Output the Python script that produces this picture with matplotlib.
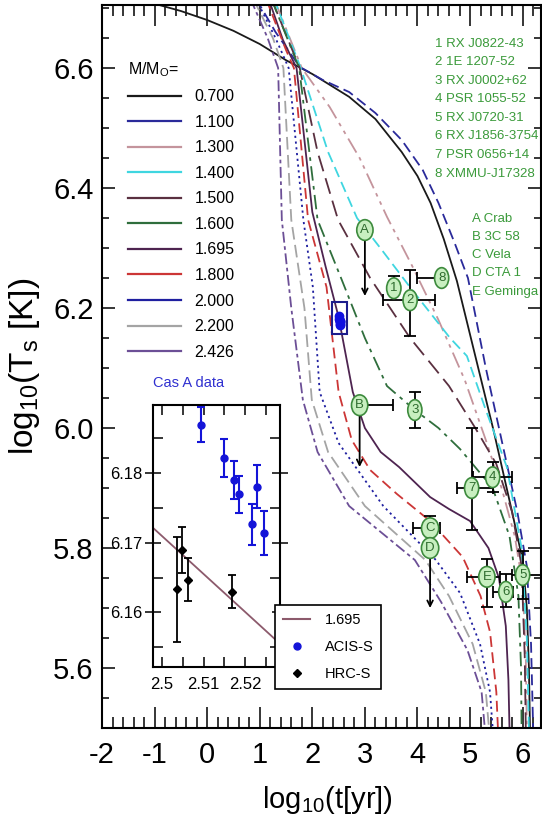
import matplotlib
matplotlib.use('Agg')
import matplotlib.pyplot as plt
from matplotlib.lines import Line2D
from matplotlib.patches import Rectangle
from matplotlib.ticker import MultipleLocator, FixedLocator, FixedFormatter

plt.rcParams['font.family'] = ['Liberation Sans Narrow', 'Noto Sans Condensed', 'Liberation Sans', 'DejaVu Sans']
plt.rcParams['font.stretch'] = 'condensed'
plt.rcParams['axes.unicode_minus'] = False
plt.rcParams['mathtext.default'] = 'regular'

# ---- cooling curves: log10(t[yr]) , log10(Ts[K])
masses = ['0.700', '1.100', '1.300', '1.400', '1.500', '1.600', '1.695', '1.800', '2.000', '2.200', '2.426']
colors = ['#1a1a1a', '#2a2a9a', '#c4949c', '#3fd6e0', '#5a3040', '#2f6e3c', '#4e2450', '#cc3636', '#1f1fa0', '#a4a4a4', '#6c4f96']
styles = ['-', (0, (6, 3)), (0, (9, 3, 2, 3, 2, 3)), (0, (6, 3)), (0, (9, 4)), (0, (8, 3, 2, 3)), '-',
          (0, (6, 3)), (0, (1.2, 2)), (0, (7, 3)), (0, (6, 2, 2, 2))]

t_0700 = [-1.2, -0.5, 0.0, 0.5, 1.0, 1.5, 2.0, 2.7, 3.2, 3.7, 4.0, 4.25, 4.5, 4.75, 5.1, 5.45, 5.8, 6.0, 6.08, 6.12, 6.14]
T_0700 = [6.712, 6.695, 6.68, 6.662, 6.64, 6.613, 6.59, 6.552, 6.515, 6.46, 6.42, 6.375, 6.315, 6.245, 6.12, 5.995, 5.86, 5.78, 5.7, 5.6, 5.5]
t_1100 = [0.9, 1.3, 1.76, 2.2, 2.7, 3.2, 3.7, 4.1, 4.4, 4.7, 4.96, 5.3, 5.6, 5.9, 6.08, 6.16, 6.2]
T_1100 = [6.72, 6.66, 6.602, 6.58, 6.56, 6.525, 6.48, 6.43, 6.375, 6.31, 6.25, 6.1, 5.98, 5.86, 5.77, 5.64, 5.5]
t_1300 = [1.25, 1.8, 2.33, 2.9, 3.42, 3.9, 4.4, 4.9, 5.3, 5.6, 5.85, 6.0, 6.06, 6.08]
T_1300 = [6.72, 6.6, 6.535, 6.45, 6.352, 6.27, 6.18, 6.08, 5.98, 5.9, 5.82, 5.74, 5.62, 5.5]
t_1400 = [1.25, 1.78, 2.3, 2.85, 3.32, 3.9, 4.62, 4.94, 5.3, 5.7, 5.98, 6.08, 6.12]
T_1400 = [6.72, 6.6, 6.46, 6.35, 6.297, 6.23, 6.15, 6.12, 6.03, 5.935, 5.8, 5.65, 5.5]
t_1500 = [1.2, 1.76, 2.1, 2.49, 3.1, 3.86, 4.6, 5.1, 5.5, 5.8, 5.98, 6.04, 6.06]
T_1500 = [6.72, 6.6, 6.46, 6.347, 6.25, 6.15, 6.07, 6.0, 5.94, 5.86, 5.77, 5.62, 5.5]
t_1600 = [1.2, 1.75, 2.1, 2.56, 3.0, 3.42, 3.95, 4.4, 4.81, 5.43, 5.75, 5.92, 5.97, 5.98]
T_1600 = [6.72, 6.6, 6.347, 6.247, 6.15, 6.07, 6.03, 6.0, 5.965, 5.9, 5.82, 5.72, 5.6, 5.5]
t_1695 = [1.15, 1.44, 1.7, 2.0, 2.25, 2.5, 2.77, 3.0, 3.3, 3.65, 4.24, 4.6, 5.0, 5.35, 5.55, 5.68, 5.73, 5.75]
T_1695 = [6.72, 6.647, 6.6, 6.36, 6.27, 6.185, 6.06, 6.0, 5.96, 5.935, 5.885, 5.865, 5.845, 5.8, 5.75, 5.67, 5.58, 5.5]
t_1800 = [1.1, 1.5, 1.65, 1.92, 2.27, 2.5, 2.75, 3.1, 3.61, 4.24, 4.86, 5.2, 5.38, 5.5, 5.53]
T_1800 = [6.72, 6.63, 6.6, 6.347, 6.235, 6.06, 5.98, 5.93, 5.89, 5.845, 5.785, 5.72, 5.66, 5.56, 5.5]
t_2000 = [0.9, 1.3, 1.55, 1.83, 2.01, 2.14, 2.5, 3.35, 4.35, 4.81, 5.19, 5.38, 5.43]
T_2000 = [6.72, 6.65, 6.6, 6.347, 6.235, 6.06, 5.975, 5.87, 5.78, 5.725, 5.64, 5.56, 5.5]
t_2200 = [0.85, 1.25, 1.45, 1.6, 1.85, 1.99, 2.3, 3.0, 4.15, 4.6, 5.05, 5.3, 5.36]
T_2200 = [6.72, 6.65, 6.6, 6.347, 6.2, 6.047, 5.96, 5.87, 5.78, 5.72, 5.64, 5.56, 5.5]
t_2426 = [0.8, 1.15, 1.35, 1.42, 1.6, 1.82, 2.1, 2.7, 3.95, 4.45, 4.95, 5.22, 5.28]
T_2426 = [6.72, 6.65, 6.6, 6.347, 6.2, 6.047, 5.96, 5.87, 5.78, 5.71, 5.63, 5.56, 5.5]
curves_t = [t_0700, t_1100, t_1300, t_1400, t_1500, t_1600, t_1695, t_1800, t_2000, t_2200, t_2426]
curves_T = [T_0700, T_1100, T_1300, T_1400, T_1500, T_1600, T_1695, T_1800, T_2000, T_2200, T_2426]

# ---- observed neutron stars
obs_labels = ['A', '8', '1', '2', '3', 'B', '4', '7', 'C', 'D', 'E', '6', '5']
obs_t = [3.0, 4.46, 3.55, 3.86, 3.95, 2.9, 5.43, 5.03, 4.24, 4.24, 5.32, 5.68, 6.0]
obs_T = [6.33, 6.25, 6.233, 6.213, 6.03, 6.038, 5.918, 5.9, 5.833, 5.80, 5.752, 5.727, 5.755]
obs_xlo = [0, 0.47, 0, 0.52, 0, 0, 0.38, 0.28, 0.33, 0, 0.38, 0.25, 0.2]
obs_xhi = [0, 0, 0, 0.47, 0, 0.63, 0.37, 0.4, 0.19, 0, 0.25, 0.13, 0.45]
obs_ylo = [0, 0, 0, 0.06, 0.03, 0, 0.025, 0.07, 0, 0, 0.05, 0.025, 0.04]
obs_yhi = [0, 0, 0.02, 0.05, 0.03, 0, 0.025, 0.10, 0.02, 0, 0.03, 0.03, 0.04]
# upper limits (arrows)
lim_t = [3.0, 2.9, 4.24]
lim_top = [6.33, 6.038, 5.80]
lim_end = [6.22, 5.935, 5.70]

list_nums = ['1 RX J0822-43', '2 1E 1207-52', '3 RX J0002+62', '4 PSR 1055-52', '5 RX J0720-31',
             '6 RX J1856-3754', '7 PSR 0656+14', '8 XMMU-J17328']
list_lets = ['A Crab', 'B 3C 58', 'C Vela', 'D CTA 1', 'E Geminga']

# ---- Cas A data (inset)
acis_t = [2.5095, 2.5148, 2.5174, 2.5186, 2.5217, 2.5229, 2.5245]
acis_T = [6.1869, 6.1821, 6.1790, 6.1769, 6.1726, 6.1780, 6.1714]
acis_err = [0.0025, 0.0027, 0.0027, 0.0027, 0.0029, 0.0031, 0.0031]
hrc_t = [2.5036, 2.5048, 2.5062, 2.5167]
hrc_T = [6.1633, 6.1690, 6.1647, 6.1630]
hrc_err = [0.0075, 0.0033, 0.0031, 0.0024]
cas_line_t = [2.495, 2.530]
cas_line_T = [6.1737, 6.1546]
inset_xticks = [2.50, 2.51, 2.52]
inset_xticklabels = ['2.5', '2.51', '2.52']
inset_yticks = [6.16, 6.17, 6.18]
inset_yticklabels = ['6.16', '6.17', '6.18']

fig = plt.figure(figsize=(5.42, 8.35), dpi=100)
ax = fig.add_axes([0.1882, 0.1281, 0.81, 0.8659])

for t, T, c, ls in zip(curves_t, curves_T, colors, styles):
    ax.plot(t, T, color=c, ls=ls, lw=1.3)

# Cas A box in the main panel
ax.add_patch(Rectangle((2.37, 6.157), 0.29, 0.053, fill=False, ec='#1c1c8c', lw=1.5, zorder=4))
ax.errorbar(acis_t, acis_T, yerr=acis_err, fmt='o', color='#1010e0', ms=6, elinewidth=2, zorder=4)

ax.errorbar(obs_t, obs_T, xerr=[obs_xlo, obs_xhi], yerr=[obs_ylo, obs_yhi], fmt='none',
            ecolor='black', elinewidth=1.3, capsize=4, capthick=1.3, zorder=5)
for t, top, end in zip(lim_t, lim_top, lim_end):
    ax.annotate('', xy=(t, end), xytext=(t, top),
                arrowprops=dict(arrowstyle='->', color='black', lw=1.3, shrinkA=0, shrinkB=0), zorder=5)
for lab, t, T in zip(obs_labels, obs_t, obs_T):
    ax.text(t, T, lab, ha='center', va='center', fontsize=9.5, color='#2e6b2e', zorder=6,
            bbox=dict(boxstyle='ellipse,pad=0.1', fc='#c8efc0', ec='#3d8b3d', lw=1.2))

for i, s in enumerate(list_nums):
    ax.text(0.7585, 0.955 - i * 0.0257, s, transform=ax.transAxes, ha='left', va='top',
            fontsize=9.5, color='#3a9a3a')
for i, s in enumerate(list_lets):
    ax.text(0.843, 0.713 - i * 0.0253, s, transform=ax.transAxes, ha='left', va='top',
            fontsize=9.5, color='#3a9a3a')
ax.text(0.116, 0.477, 'Cas A data', transform=ax.transAxes, ha='left', va='center',
        fontsize=10.5, color='#3030d0')

handles = [Line2D([0], [0], color=c, lw=1.6) for c in colors]
leg = ax.legend(handles, masses, title='M/M$_{O}$=', loc='upper left',
                bbox_to_anchor=(128 / 542, 1 - 60 / 835), bbox_transform=fig.transFigure,
                frameon=False, fontsize=11.5, title_fontsize=11.5, handlelength=3.3,
                handletextpad=0.85, labelspacing=0.66, borderpad=0, borderaxespad=0,
                alignment='left')

ax.set_xlim(-2, 6.35)
ax.set_ylim(5.5, 6.705)
ax.xaxis.set_major_locator(MultipleLocator(1))
ax.xaxis.set_minor_locator(MultipleLocator(0.2))
ax.yaxis.set_major_locator(MultipleLocator(0.2))
ax.yaxis.set_minor_locator(MultipleLocator(0.05))
ax.xaxis.set_major_formatter(plt.FuncFormatter(lambda v, p: '%d' % round(v)))
ax.tick_params(which='both', direction='in', top=True, right=True, width=1.1)
ax.tick_params(axis='x', which='major', length=15, labelsize=21, pad=9)
ax.tick_params(axis='x', which='minor', length=8)
ax.tick_params(axis='y', which='major', length=9.5, labelsize=21, pad=6)
ax.tick_params(axis='y', which='minor', length=5)
for sp in ax.spines.values():
    sp.set_linewidth(1.5)
ax.set_xlabel('log$_{10}$(t[yr])', fontsize=21)
ax.set_ylabel('log$_{10}$(T$_{s}$ [K])', fontsize=24)
ax.xaxis.set_label_coords(0.5125, -0.078)
ax.yaxis.set_label_coords(-0.137, 0.5)

# ---- inset with Cas A
axi = fig.add_axes([0.2823, 0.2012, 0.2343, 0.3138])
axi.plot(cas_line_t, cas_line_T, color='#8c5a6c', lw=1.3)
axi.errorbar(acis_t, acis_T, yerr=acis_err, fmt='o', color='#1414d8', ms=5, elinewidth=1.5,
             capsize=3, capthick=1.5)
axi.errorbar(hrc_t, hrc_T, yerr=hrc_err, fmt='D', color='black', ms=4.5, elinewidth=1.3,
             capsize=3, capthick=1.3)
axi.set_xlim(2.4979, 2.5283)
axi.set_ylim(6.1522, 6.1897)
axi.xaxis.set_major_locator(FixedLocator(inset_xticks))
axi.xaxis.set_major_formatter(FixedFormatter(inset_xticklabels))
axi.xaxis.set_minor_locator(MultipleLocator(0.005))
axi.yaxis.set_major_locator(FixedLocator(inset_yticks))
axi.yaxis.set_major_formatter(FixedFormatter(inset_yticklabels))
axi.yaxis.set_minor_locator(MultipleLocator(0.005))
axi.tick_params(which='both', direction='in', top=True, right=True, width=1.1, length=7)
axi.tick_params(axis='y', which='major', direction='inout', length=11, labelsize=12, pad=2)
axi.tick_params(axis='x', which='major', labelsize=12, pad=7)
for sp in axi.spines.values():
    sp.set_linewidth(1.5)

ih = [Line2D([0], [0], color='#8c5a6c', lw=1.5),
      Line2D([0], [0], color='#1414d8', marker='o', ls='none', ms=5),
      Line2D([0], [0], color='black', marker='D', ls='none', ms=4.5)]
il = axi.legend(ih, ['1.695', 'ACIS-S', 'HRC-S'], loc='upper left',
                bbox_to_anchor=(275 / 542, 1 - 605 / 835), bbox_transform=fig.transFigure,
                fontsize=10.5, handlelength=1.85, handletextpad=1.0, labelspacing=0.9,
                borderpad=0.55, borderaxespad=0, fancybox=False, framealpha=1, edgecolor='black')
il.get_frame().set_linewidth(1.2)

fig.savefig('out.png', dpi=100)
